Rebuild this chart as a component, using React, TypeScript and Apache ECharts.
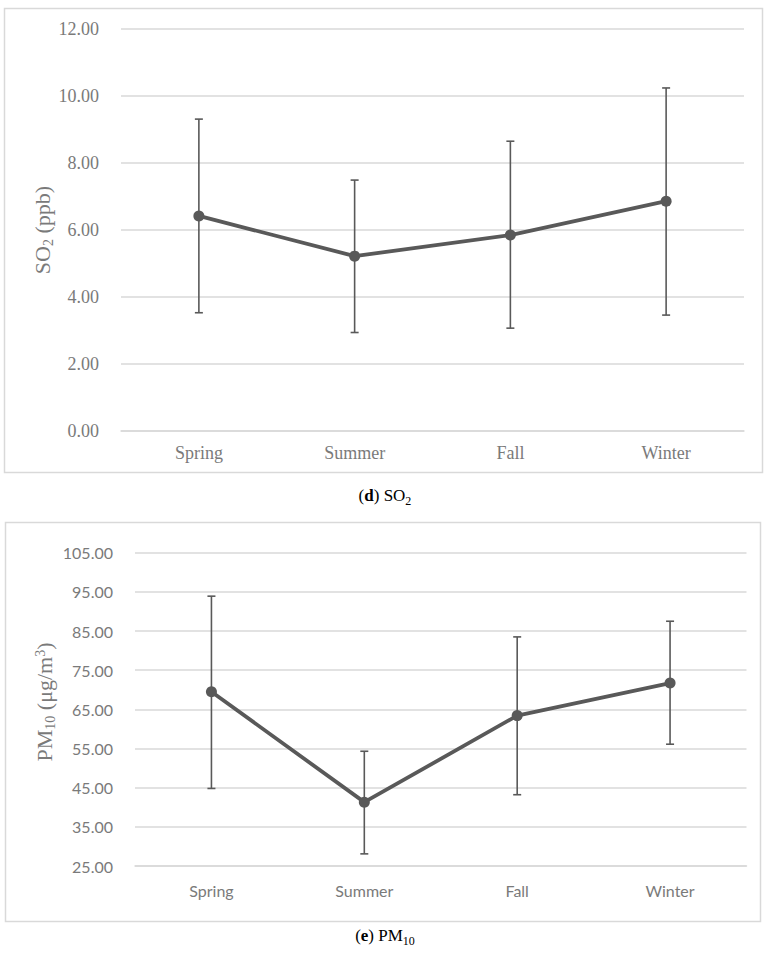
import React, { useEffect, useRef } from "react";
import * as echarts from "echarts";

const seasons = ["Spring", "Summer", "Fall", "Winter"];

const so2Mean = [6.42, 5.22, 5.85, 6.86];
const so2Upper = [9.31, 7.49, 8.65, 10.24];
const so2Lower = [3.53, 2.94, 3.07, 3.46];

const pmMean = [69.5, 41.3, 63.4, 71.7];
const pmUpper = [93.9, 54.3, 83.5, 87.5];
const pmLower = [44.8, 28.1, 43.2, 56.1];

const DARK = "#595959";
const GRID = "#d9d9d9";
const LABEL = "#7a7a7a";

function errorSeries(gridIndex: number, upper: number[], lower: number[]) {
  return {
    type: "custom",
    xAxisIndex: gridIndex,
    yAxisIndex: gridIndex,
    z: 2,
    data: seasons.map((_, i) => [i, upper[i], lower[i]]),
    encode: { x: 0, y: [1, 2] },
    renderItem: (params: any, api: any) => {
      const x = api.value(0);
      const hi = api.coord([x, api.value(1)]);
      const lo = api.coord([x, api.value(2)]);
      const st = { stroke: DARK, lineWidth: 1.6 };
      const c = 4;
      return {
        type: "group",
        children: [
          { type: "line", shape: { x1: hi[0], y1: hi[1], x2: lo[0], y2: lo[1] }, style: st },
          { type: "line", shape: { x1: hi[0] - c, y1: hi[1], x2: hi[0] + c, y2: hi[1] }, style: st },
          { type: "line", shape: { x1: lo[0] - c, y1: lo[1], x2: lo[0] + c, y2: lo[1] }, style: st },
        ],
      };
    },
  };
}

function lineSeries(gridIndex: number, data: number[]) {
  return {
    type: "line",
    xAxisIndex: gridIndex,
    yAxisIndex: gridIndex,
    z: 3,
    data,
    symbol: "circle",
    symbolSize: 11,
    lineStyle: { color: DARK, width: 3.8 },
    itemStyle: { color: DARK },
  };
}

export default function App() {
  const ref = useRef<HTMLDivElement>(null);
  useEffect(() => {
    if (!ref.current) return;
    const chart = echarts.init(ref.current, undefined, { renderer: "svg" });
    const serif = "Liberation Serif";
    const sans = "Lato";
    const capRich = {
      n: { fontFamily: serif, fontSize: 17, lineHeight: 20, verticalAlign: "top", fill: "#000" },
      bd: { fontFamily: serif, fontSize: 17, fontWeight: "bold", lineHeight: 20, verticalAlign: "top", fill: "#000" },
      s: { fontFamily: serif, fontSize: 12, lineHeight: 12, verticalAlign: "bottom", fill: "#000" },
    };
    const titleRich = {
      a: { fontSize: 22, lineHeight: 24, verticalAlign: "top", fill: LABEL, fontFamily: serif },
      b: { fontSize: 14, lineHeight: 10, verticalAlign: "bottom", fill: LABEL, fontFamily: serif },
      c: { fontSize: 14, lineHeight: 15, verticalAlign: "top", fill: LABEL, fontFamily: serif },
    };
    chart.setOption({
      animation: false,
      backgroundColor: "#ffffff",
      grid: [
        { left: 121, right: 26, top: 29, bottom: 965 - 431 },
        { left: 135, right: 23.5, top: 552.7, bottom: 965 - 866 },
      ],
      xAxis: [
        {
          type: "category",
          gridIndex: 0,
          data: seasons,
          boundaryGap: true,
          axisLine: { lineStyle: { color: GRID, width: 1.5 } },
          axisTick: { show: false },
          axisLabel: { color: LABEL, fontFamily: serif, fontSize: 18, margin: 13 },
        },
        {
          type: "category",
          gridIndex: 1,
          data: seasons,
          boundaryGap: true,
          axisLine: { lineStyle: { color: GRID, width: 1.5 } },
          axisTick: { show: false },
          axisLabel: { color: LABEL, fontFamily: sans, fontSize: 16, margin: 16 },
        },
      ],
      yAxis: [
        {
          type: "value",
          gridIndex: 0,
          min: 0,
          max: 12,
          interval: 2,
          axisLine: { show: false },
          axisTick: { show: false },
          splitLine: { lineStyle: { color: GRID, width: 1.5 } },
          axisLabel: {
            color: LABEL,
            fontFamily: serif,
            fontSize: 18,
            margin: 22,
            formatter: (v: number) => v.toFixed(2),
          },
        },
        {
          type: "value",
          gridIndex: 1,
          min: 25,
          max: 105,
          interval: 10,
          axisLine: { show: false },
          axisTick: { show: false },
          splitLine: { lineStyle: { color: GRID, width: 1.5 } },
          axisLabel: {
            color: LABEL,
            fontFamily: sans,
            fontSize: 16,
            margin: 22,
            formatter: (v: number) => v.toFixed(2),
          },
        },
      ],
      graphic: [
        {
          type: "rect",
          shape: { x: 4.5, y: 8.5, width: 758, height: 464 },
          style: { fill: "none", stroke: GRID, lineWidth: 1.5 },
          silent: true,
        },
        {
          type: "rect",
          shape: { x: 5.5, y: 522.5, width: 755, height: 399 },
          style: { fill: "none", stroke: GRID, lineWidth: 1.5 },
          silent: true,
        },
        {
          type: "text",
          x: 43,
          y: 230,
          rotation: Math.PI / 2,
          style: {
            text: "{a|SO}{b|2}{a| (ppb)}",
            rich: titleRich,
            align: "center",
            verticalAlign: "middle",
          },
        },
        {
          type: "text",
          x: 45,
          y: 702,
          rotation: Math.PI / 2,
          style: {
            text: "{a|PM}{b|10}{a| (μg/m}{c|3}{a|)}",
            rich: titleRich,
            align: "center",
            verticalAlign: "middle",
          },
        },
        {
          type: "text",
          left: "center",
          top: 487,
          style: { text: "{n|(}{bd|d}{n|) SO}{s|2}", fill: "#000", rich: capRich },
        },
        {
          type: "text",
          left: "center",
          top: 927,
          style: { text: "{n|(}{bd|e}{n|) PM}{s|10}", fill: "#000", rich: capRich },
        },
      ],
      series: [
        errorSeries(0, so2Upper, so2Lower),
        lineSeries(0, so2Mean),
        errorSeries(1, pmUpper, pmLower),
        lineSeries(1, pmMean),
      ],
    });
    return () => chart.dispose();
  }, []);
  return (
    <div
      ref={ref}
      style={{ position: "absolute", left: 0, top: 0, width: 770, height: 965 }}
    />
  );
}
